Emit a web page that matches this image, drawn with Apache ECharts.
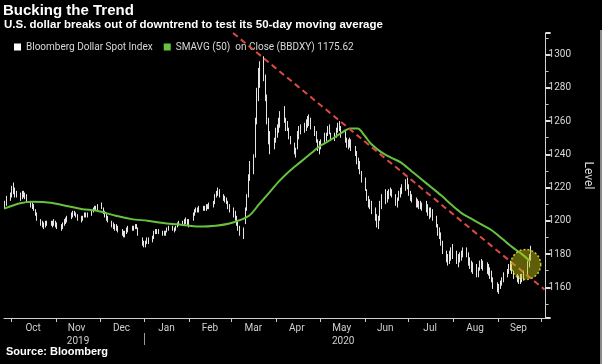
<!DOCTYPE html>
<html><head><meta charset="utf-8">
<script src="https://cdn.jsdelivr.net/npm/echarts@6/dist/echarts.min.js"></script>
<style>html,body{margin:0;padding:0;background:#000;} #c{width:602px;height:364px;}</style>
</head><body><div id="c"></div>
<script>
// ---- data (daily bars, business days from first to last date) ----
const firstDay = '2019-09-26';
const lastDay = '2020-09-23';
const highs = [
  1212,1215,1217,
  1221,1223,1220,1218,1217,1218,1218,1217,1216,1212,1211,1210,1207,1205,1201,1200,1199,1200,1200,1200,1200,1201,1200,
  1199,1198,1199,1201,1202,1203,1205,1206,1206,1205,1204,1203,1203,1205,1205,1205,1207,1208,1209,1209,1210,
  1211,1208,1206,1204,1203,1200,1199,1198,1198,1197,1195,1194,1194,1196,1197,1197,1197,1198,1198,1196,1190,1188,
  1188,1190,1190,1191,1194,1195,1195,1195,1194,1194,1194,1196,1197,1197,1196,1197,1199,1200,1200,1201,1202,1201,1201,
  1205,1207,1208,1208,1209,1209,1209,1210,1210,1211,1212,1216,1218,1220,1219,1216,1215,1214,1212,1210,
  1208,1206,1203,1200,1197,1196,1208,1216,1228,1236,1240,1262,1280,1292,1296,1299,1288,1276,1262,1254,1250,1256,
  1258,1262,1266,1269,1262,1260,1256,1251,1247,1244,1254,1257,1258,1259,1261,1263,1264,1262,1257,1254,1249,1248,
  1249,1253,1253,1257,1258,1253,1253,1256,1259,1260,1257,1254,1250,1249,1250,1249,1245,1242,1238,1236,1230,
  1226,1219,1215,1213,1212,1208,1204,1203,1212,1216,1219,1218,1219,1220,1219,1216,1214,1218,1220,1222,1225,1226,
  1222,1218,1216,1214,1213,1212,1212,1211,1212,1210,1208,1208,1207,1203,1198,1196,1193,1188,1182,1180,1182,1184,1186,
  1182,1180,1181,1182,1184,1184,1181,1178,1176,1175,1174,1172,1176,1177,1176,1175,1174,1172,1170,1166,1163,
  1162,1164,1166,1169,1171,1174,1176,1174,1170,1168,1167,1168,1168,1170,1176,1180,1185
];
const lows = [
  1207,1209,1212,
  1214,1216,1214,1214,1212,1213,1214,1213,1211,1208,1207,1206,1203,1200,1197,1196,1195,1196,1197,1197,1196,1197,1196,
  1195,1194,1195,1197,1198,1199,1201,1202,1203,1202,1200,1199,1200,1202,1202,1202,1203,1205,1206,1206,1206,
  1207,1204,1202,1200,1199,1196,1195,1194,1194,1193,1191,1190,1190,1192,1193,1194,1194,1195,1195,1191,1185,1184,
  1184,1186,1186,1187,1189,1192,1192,1192,1191,1191,1191,1193,1194,1194,1193,1194,1196,1197,1197,1197,1198,1197,1196,
  1200,1203,1205,1205,1205,1206,1206,1206,1207,1207,1208,1210,1214,1215,1214,1212,1211,1210,1207,1205,
  1202,1200,1197,1194,1191,1189,1198,1206,1214,1224,1228,1238,1258,1272,1280,1284,1272,1258,1246,1240,1243,1247,
  1250,1253,1256,1259,1254,1254,1249,1246,1240,1238,1243,1249,1252,1253,1254,1256,1257,1255,1251,1247,1242,1240,
  1243,1247,1248,1251,1252,1248,1248,1250,1253,1254,1250,1247,1244,1243,1244,1242,1239,1234,1231,1228,1223,
  1218,1212,1208,1207,1204,1200,1196,1195,1200,1207,1210,1211,1213,1215,1214,1209,1208,1212,1214,1216,1218,1219,
  1215,1212,1211,1208,1208,1207,1207,1206,1205,1203,1201,1202,1200,1196,1191,1189,1185,1180,1175,1173,1174,1176,1177,
  1174,1172,1175,1176,1178,1178,1173,1171,1169,1168,1166,1166,1170,1171,1170,1168,1167,1165,1163,1159,1157,
  1156,1159,1161,1163,1166,1168,1170,1168,1165,1163,1162,1162,1163,1164,1166,1172,1176
];
const smaDates = ['2019-09-26','2019-10-07','2019-10-16','2019-10-28','2019-11-08','2019-11-19','2019-11-29',
  '2019-12-12','2019-12-23','2020-01-03','2020-01-15','2020-01-27','2020-02-07','2020-02-19','2020-03-02',
  '2020-03-13','2020-03-20','2020-03-27','2020-04-03','2020-04-10','2020-04-17','2020-04-24','2020-05-01',
  '2020-05-08','2020-05-15','2020-05-22','2020-05-27','2020-06-01','2020-06-05','2020-06-12','2020-06-19',
  '2020-06-26','2020-07-03','2020-07-10','2020-07-17','2020-07-24','2020-07-31','2020-08-07','2020-08-14',
  '2020-08-21','2020-08-28','2020-09-04','2020-09-11','2020-09-18','2020-09-23'];
const smaValues = [1207.3,1210.6,1211.5,1210.9,1208.9,1207,1206,
  1203,1201,1200,1198.5,1197.5,1196.5,1197,1199,
  1203,1210,1217,1224,1230,1235,1240,1245,
  1248.5,1252.5,1255.5,1255.5,1251,1246.5,1241.5,1238,
  1235,1230,1225,1220,1215,1209.5,1204.5,1201,
  1197.5,1194,1189,1184,1179.5,1175.6];
const trendDates = ['2020-03-02','2020-10-03'];
const trendValues = [1313, 1158.6];
const highlightDate = '2020-09-20';
const highlightValue = 1173.7;
const monthNames = ['Oct','Nov','Dec','Jan','Feb','Mar','Apr','May','Jun','Jul','Aug','Sep'];
const monthStarts = ['2019-10-01','2019-11-01','2019-12-01','2020-01-01','2020-02-01','2020-03-01','2020-04-01',
  '2020-05-01','2020-06-01','2020-07-01','2020-08-01','2020-09-01','2020-10-01'];
const monthMids = ['2019-10-16','2019-11-15','2019-12-16','2020-01-16','2020-02-15','2020-03-16','2020-04-15',
  '2020-05-16','2020-06-15','2020-07-16','2020-08-16','2020-09-15'];
const yearLabels = ['2019','2020'];
const yearPos = ['2019-11-16','2020-05-17'];
const yearBreak = ['2020-01-01'];
const axisMin = '2019-09-25T21:00';
const axisMax = '2020-10-03T18:00';

// ---- helpers ----
function ts(s){ const p = s.split(/[-T:]/).map(Number); return new Date(p[0], p[1]-1, p[2], p[3]||0, p[4]||0).getTime(); }
const days = [];
for (let t = ts(firstDay); t <= ts(lastDay); ) {
  const d = new Date(t);
  if (d.getDay() !== 0 && d.getDay() !== 6) days.push(t);
  d.setDate(d.getDate() + 1); t = d.getTime();
}
const barData = days.map((t, i) => [t, lows[i], highs[i]]);
const monthMidTs = monthMids.map(ts);
const yearPosTs = yearPos.map(ts);

const chart = echarts.init(document.getElementById('c'), null, {renderer:'canvas'});
const FONT = 'Roboto';
chart.setOption({
  backgroundColor: '#000',
  animation: false,
  graphic: [{type:'rect', right: 0, top: 30, shape:{width: 2, height: 334}, style:{fill:'#8a8a8a'}, silent: true}],
  title: [
    {text:'Bucking the Trend', left:3, top:3, padding:0, textStyle:{color:'#fff', fontSize:15, fontWeight:'bold', fontFamily:'Liberation Sans'}},
    {text:'U.S. dollar breaks out of downtrend to test its 50-day moving average', left:4, top:19, padding:0,
     textStyle:{color:'#fff', fontSize:11.5, fontWeight:'bold', fontFamily:'Liberation Sans'}},
    {text:'Source: Bloomberg', left:6, top:346, padding:0, textStyle:{color:'#fff', fontSize:11, fontWeight:'bold', fontFamily:'Liberation Sans'}}
  ],
  legend: {
    left: 14, top: 42, padding: 0, itemWidth: 7, itemHeight: 7, itemGap: 11, icon: 'rect',
    textStyle: {color:'#d8d8d8', fontSize: 10, fontFamily: FONT},
    data: ['Bloomberg Dollar Spot Index', 'SMAVG (50)  on Close (BBDXY) 1175.62']
  },
  grid: {left: 4, right: 52, top: 33, bottom: 46},
  xAxis: [{
    type: 'value', min: ts(axisMin), max: ts(axisMax),
    axisLine: {lineStyle: {color: '#cfcfcf', width: 1}},
    axisTick: {show: true, customValues: monthStarts.map(ts), length: 4, lineStyle: {color:'#cfcfcf'}},
    axisLabel: {customValues: monthMidTs, color: '#cfcfcf', fontSize: 10, fontFamily: FONT, margin: 5,
      formatter: function(v){ const i = monthMidTs.indexOf(v); return i >= 0 ? monthNames[i] : ''; }},
    splitLine: {show: false}
  }, {
    type: 'value', min: ts(axisMin), max: ts(axisMax), position: 'bottom', offset: 15,
    axisLine: {show: false},
    axisTick: {show: true, customValues: yearBreak.map(ts), length: 12, lineStyle: {color:'#9a9a9a'}},
    axisLabel: {customValues: yearPosTs, color: '#cfcfcf', fontSize: 10, fontFamily: FONT, margin: 3,
      formatter: function(v){ const i = yearPosTs.indexOf(v); return i >= 0 ? yearLabels[i] : ''; }},
    splitLine: {show: false}
  }],
  yAxis: {
    type: 'value', position: 'right', min: 1141.5, max: 1313, splitNumber: 8,
    name: 'Level', nameLocation: 'middle', nameGap: 32, nameRotate: -90,
    nameTextStyle: {color:'#d8d8d8', fontSize: 12, fontFamily: FONT},
    axisLine: {show: true, lineStyle: {color:'#cfcfcf'}},
    axisTick: {show: true, length: 5, lineStyle: {color:'#e0e0e0', width: 2}},
    minorTick: {show: true, splitNumber: 2, length: 3, lineStyle: {color:'#bfbfbf'}},
    axisLabel: {color:'#d8d8d8', fontSize: 10, fontFamily: FONT, margin: 3, showMinLabel: false, showMaxLabel: false,
      formatter: function(v){ return String(v); }},
    splitLine: {show: false}
  },
  series: [{
    name: 'Bloomberg Dollar Spot Index', type: 'custom', data: barData,
    itemStyle: {color: '#ffffff'},
    encode: {x: 0, y: [1, 2]},
    renderItem: function(params, api){
      const a = api.coord([api.value(0), api.value(1)]);
      const b = api.coord([api.value(0), api.value(2)]);
      const x = Math.round(a[0]) + 0.5;
      return {type:'line', shape:{x1:x, y1:a[1], x2:x, y2:b[1]}, style:{stroke:'#e4e4e4', lineWidth:1}};
    },
    z: 2
  }, {
    name: 'SMAVG (50)  on Close (BBDXY) 1175.62', type: 'line', smooth: 0.3, showSymbol: false,
    data: smaDates.map((d, i) => [ts(d), smaValues[i]]),
    itemStyle: {color: '#66c23f'}, lineStyle: {color: '#66c23f', width: 2}, z: 3
  }, {
    name: 'trend', type: 'line', showSymbol: false,
    data: trendDates.map((d, i) => [ts(d), trendValues[i]]),
    lineStyle: {color: '#dd4a44', width: 2, type: [6, 4]}, z: 4
  }, {
    name: 'highlight', type: 'scatter', symbolSize: 30,
    data: [[ts(highlightDate), highlightValue]],
    itemStyle: {color: 'rgba(190,190,20,0.62)', borderColor: '#f2f03a', borderWidth: 1.5, borderType: [2, 2]}, z: 5
  }]
});
</script></body></html>
